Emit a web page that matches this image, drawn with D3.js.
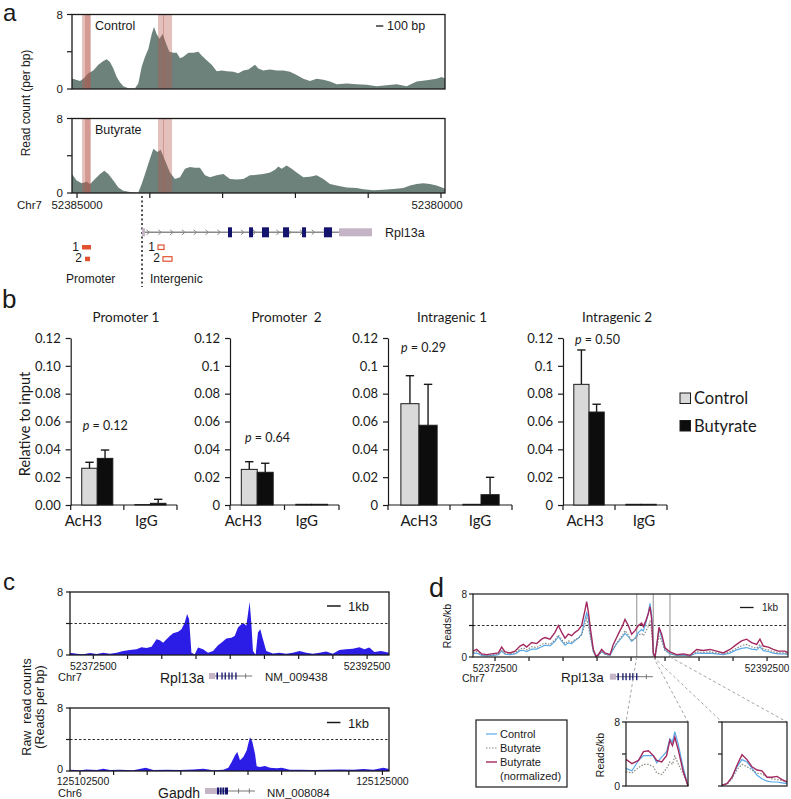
<!DOCTYPE html>
<html><head><meta charset="utf-8">
<script src="https://cdn.jsdelivr.net/npm/d3@7/dist/d3.min.js"></script>
<style>html,body{margin:0;padding:0;background:#fff;}svg{display:block;}</style>
</head><body>
<svg id="fig" width="791" height="799" xmlns="http://www.w3.org/2000/svg"></svg>
<script>
// ================= DATA =================
// Panel a: read counts per bp; positions = distance (bp) downstream of chr7:52385000
const aOrigin = 52385000;
const aTickOffsets = [0, 1000, 2000, 3000, 4000, 5000];
const aControlPos = [-69,41,87,156,224,293,362,408,453,499,545,591,636,705,797,842,888,934,980,1026,1058,1094,1131,1177,1222,1268,1323,1369,1415,1461,1529,1598,1667,1712,1781,1850,1919,1987,2056,2147,2216,2285,2353,2445,2491,2559,2651,2743,2834,2926,3017,3109,3200,3292,3384,3475,3567,3704,3841,3979,4116,4253,4391,4528,4666,4803,4940,5009,5055];
const aControlVal = [1.14,0.85,1.1,1.7,2.0,2.6,3.0,3.2,2.9,2.2,1.3,0.7,0.3,0.07,0.07,0.6,2.4,3.45,4.3,5.9,6.65,5.9,5.4,5.9,4.9,4.0,3.9,3.9,3.3,3.45,3.9,3.9,4.0,3.6,3.1,2.6,1.9,2.0,1.9,1.85,1.7,2.0,2.1,2.6,2.2,2.0,2.1,2.0,2.0,1.85,1.5,1.1,0.85,1.1,1.0,0.8,0.5,0.6,0.5,0.45,0.3,0.4,0.5,0.3,0.8,0.95,1.1,1.3,1.14];
const aButyratePos = [-69,-5,64,133,179,247,316,375,430,499,568,636,728,842,888,934,1003,1049,1104,1149,1209,1277,1346,1415,1483,1552,1621,1689,1758,1827,1919,2010,2102,2193,2285,2376,2468,2559,2651,2720,2766,2811,2880,2949,3017,3109,3200,3292,3384,3475,3567,3704,3841,3933,4070,4208,4345,4483,4574,4666,4757,4849,4940,5032,5055];
const aButyrateVal = [2.05,1.33,1.05,1.2,0.97,1.5,2.05,2.4,2.05,1.33,0.6,0.25,0.1,0.05,0.97,2.05,3.7,4.75,4.4,4.65,3.5,2.2,1.5,1.7,2.6,2.8,2.7,2.7,1.9,1.7,1.9,2.05,1.5,1.45,1.5,1.9,1.95,2.05,2.2,2.5,2.85,2.6,2.95,2.6,2.2,1.7,1.75,1.9,1.5,0.97,0.8,0.6,0.55,0.4,0.3,0.35,0.43,0.55,0.8,0.97,1.05,0.97,0.8,0.55,0.43];
// amplicons (offset bp): promoter 1, promoter 2, intergenic 1, intergenic 2
const aAmpliconNames = ["1", "2", "1", "2"];
const aAmpliconRanges = [[69,192],[110,179],[1113,1195],[1181,1305]];
const aAmpliconGroup = ["Promoter", "Promoter", "Intergenic", "Intergenic"];
// Rpl13a gene model (absolute chr7 coordinates)
const rplTSS = [52384066, 52384107];
const rplExons = [[52382871,52382926],[52382582,52382637],[52382363,52382459],[52382088,52382170],[52381854,52381909],[52381497,52381607]];
const rplUTR = [52380948, 52381401];

// Panel b: ChIP relative to input
const bPanels = ["Promoter 1", "Promoter  2", "Intragenic 1", "Intragenic 2"];
const bCategories = ["AcH3", "IgG"];
const bSeries = ["Control", "Butyrate"];
const bControl = [[0.0264,0.0003],[0.0256,0.0005],[0.0728,0.0005],[0.0867,0.0005]];
const bControlErr = [[0.0043,0],[0.0055,0],[0.0201,0],[0.0247,0]];
const bButyrate = [[0.0335,0.0012],[0.0235,0.0005],[0.0573,0.0074],[0.0668,0.0005]];
const bButyrateErr = [[0.006,0.0029],[0.0065,0],[0.0294,0.0125],[0.0056,0]];
const bPValues = ["0.12", "0.64", "0.29", "0.50"];
const bTicks = [0, 0.02, 0.04, 0.06, 0.08, 0.1, 0.12];

// Panel c: raw read counts (reads per bp); positions = bp from region start
const cRplStart = 52372500;
const cRplPos = [-1705,-1217,-731,-246,241,727,1213,1699,2185,2670,3157,3521,3886,4250,4615,4857,5101,5344,5586,5830,6194,6437,6680,6850,6996,7166,7409,7652,8017,8381,8746,9110,9353,9718,10082,10325,10568,10811,11006,11176,11297,11418,11540,11662,11856,12026,12196,12391,12634,13120,13605,14092,14578,15064,15550,16036,16521,17008,17494,17979,18466,18952,19437,19802,20167,20531,21017,21600];
const cRplVal = [0.3,0.17,0.09,0.25,0.13,0.3,0.17,0.3,0.5,0.64,0.72,1.0,0.9,1.06,2.0,1.87,1.57,2.0,2.4,2.77,2.94,3.28,4.13,5.2,4.55,0.3,0.09,0.94,0.72,0.3,0.5,1.23,1.57,2.1,2.2,2.4,3.5,3.9,4.0,3.7,5.2,6.77,4.13,0.5,0.04,2.85,3.28,2.0,0.5,0.2,0.3,0.17,0.3,0.5,0.3,0.17,0.3,0.43,0.17,0.64,0.72,0.8,1.0,0.72,0.94,0.38,0.5,0.3];
const cGapdhStart = 125102500;
const cGapdhPos = [-744,0,496,1240,1736,2232,2976,3968,4886,5456,6448,7440,8432,9176,9920,10664,11036,11284,11532,11706,11904,12152,12400,12524,12648,12822,13020,13144,13392,13764,14136,14632,15004,15624,16368,17360,18352,19344,20336,21080,21824,22568,22990];
const cGapdhVal = [0.17,0.08,0.2,0.13,0.3,0.13,0.17,0.08,0.42,0.13,0.17,0.13,0.2,0.3,0.08,0.17,0.42,1.14,1.99,2.4,1.36,1.78,2.6,3.5,4.3,3.7,2.2,0.6,0.5,0.64,0.42,0.34,0.42,0.17,0.17,0.13,0.17,0.2,0.17,0.25,0.17,0.42,0.25];
const gapdhUTR = [125111800, 125112693];
const gapdhExons = [[125112693,125112860],[125112910,125113040],[125113090,125113230],[125113280,125113511]];
const gapdhEnd = 125115520;

// Panel d: reads per kb, same Rpl13a region (bp from 52372500)
const dPos = [-1620,-1348,-980,-612,-123,245,490,735,1103,1470,1838,2082,2327,2695,3063,3430,3675,4043,4410,4655,4900,5145,5390,5635,5880,6125,6370,6615,6738,6860,7032,7228,7424,7595,7840,8085,8453,8697,8942,9188,9383,9555,9800,10045,10290,10535,10780,10903,11074,11270,11393,11515,11638,11760,11932,12054,12250,12495,12863,13353,13843,14333,14822,15312,15803,16292,16782,17273,17762,18130,18497,18865,19232,19478,19722,20090,20457,20825,21315,21540];
const dControl = [0.45,0.5,0.2,0.15,0.2,0.3,0.75,0.35,0.3,0.4,0.8,0.85,0.7,1.0,1.0,1.3,1.5,1.4,2.0,2.6,2.0,1.5,1.8,1.7,2.1,2.4,2.9,4.8,5.6,4.9,2.6,0.7,0.05,0.2,0.7,0.35,0.2,1.0,1.7,2.2,2.6,3.0,2.6,2.0,2.4,3.1,3.5,3.3,4.2,5.6,6.8,5.3,0.5,0,2.0,3.5,2.5,0.9,0.4,0.2,0.25,0.15,0.5,0.45,0.5,0.4,0.3,0.5,0.9,1.1,1.2,1.0,0.9,1.3,0.8,0.7,0.5,0.4,0.4,0.3];
const dButyrate = [0.55,0.7,0.28,0.2,0.3,0.38,0.9,0.45,0.38,0.52,1.0,1.15,0.9,1.3,1.2,1.6,1.75,1.6,2.2,2.8,2.2,1.7,2.05,1.9,2.2,2.4,2.8,4.2,4.9,4.0,2.35,0.7,0.06,0.2,0.7,0.36,0.2,1.1,1.75,2.35,2.8,3.35,2.8,2.05,2.35,2.8,3.0,2.7,3.2,3.9,4.5,3.4,0.36,0,1.45,2.65,2.05,0.82,0.45,0.2,0.28,0.15,0.67,0.58,0.67,0.52,0.36,0.67,1.1,1.45,1.6,1.3,1.1,1.6,1.0,0.9,0.67,0.52,0.52,0.36];
const dButyrateNorm = [0.74,0.96,0.39,0.3,0.43,0.52,1.26,0.65,0.52,0.74,1.39,1.6,1.26,1.83,1.7,2.26,2.48,2.26,3.13,4.0,3.13,2.39,2.9,2.7,3.13,3.43,4.0,5.96,7.04,5.74,3.35,0.96,0.09,0.3,0.96,0.52,0.3,1.6,2.48,3.35,4.0,4.78,4.0,2.9,3.35,4.0,4.3,3.87,4.52,5.52,6.39,4.87,0.52,0,2.04,3.78,2.9,1.17,0.65,0.3,0.39,0.22,0.96,0.83,0.96,0.74,0.52,0.96,1.6,2.04,2.26,1.83,1.6,2.26,1.39,1.26,0.96,0.74,0.74,0.52];
const dWindows = [10415, 11638, 12863];
const dInset1Pos = [10415,10532,10662,10760,10857,10955,11020,11118,11215,11280,11332,11378,11443,11540,11638];
const dInset1Control = [2.2,1.9,3.2,3.8,3.8,3.8,2.9,3.6,4.3,5.9,5.5,6.8,5.3,2.4,0];
const dInset1Butyrate = [1.77,1.64,2.3,2.7,2.7,2.4,1.64,1.43,2.2,3.0,2.7,3.75,2.8,1.55,0];
const dInset1Norm = [3.33,2.8,3.2,4.3,4.4,3.8,3.2,3.0,3.8,5.7,5.05,6.1,4.6,1.9,0];
const dInset2Pos = [11638,11732,11826,11921,12015,12109,12203,12298,12392,12486,12580,12675,12769,12863];
const dInset2Control = [0.1,0.3,1.05,2.4,3.3,3.0,2.2,1.35,0.9,0.6,0.5,0.5,0.4,0.3];
const dInset2Butyrate = [0.1,0.2,0.9,2.05,2.7,2.4,2.0,1.6,1.5,1.15,0.9,0.8,0.7,0.5];
const dInset2Norm = [0.1,0.3,1.1,2.6,3.9,3.3,2.4,2.0,1.9,1.1,1.1,1.2,0.8,0.5];
const dLegend = ["Control", "Butyrate", "Butyrate", "(normalized)"];

// ================= DRAWING =================
const svg = d3.select("#fig");
const FA = "'Liberation Sans', Arial, Helvetica, sans-serif";
const FB = "Lato, 'Open Sans', sans-serif";
const INK = "#1a1a1a";
function txt(g, x, y, s, o = {}) {
  const e = g.append("text").attr("x", x).attr("y", y).text(s)
    .attr("font-family", o.f || FA).attr("font-size", o.s || 11)
    .attr("fill", o.c || INK).attr("text-anchor", o.a || "start");
  if (o.it) e.attr("font-style", "italic");
  return e;
}
function vtxt(g, x, y, s, o = {}) {
  return g.append("text").attr("transform", `translate(${x},${y}) rotate(-90)`).text(s)
    .attr("font-family", o.f || FA).attr("font-size", o.s || 11)
    .attr("fill", o.c || INK).attr("text-anchor", "middle");
}
function line(g, x1, y1, x2, y2, o = {}) {
  const l = g.append("line").attr("x1", x1).attr("y1", y1).attr("x2", x2).attr("y2", y2)
    .attr("stroke", o.c || INK).attr("stroke-width", o.w || 1.2);
  if (o.dash) l.attr("stroke-dasharray", o.dash);
  return l;
}
function frame(g, x0, y0, x1, y1, w) {
  g.append("rect").attr("x", x0).attr("y", y0).attr("width", x1 - x0).attr("height", y1 - y0)
    .attr("fill", "none").attr("stroke", INK).attr("stroke-width", w || 1.2);
}

// ---------- panel letters ----------
txt(svg, 3, 21, "a", {s: 24});
txt(svg, 2, 308, "b", {s: 26});
txt(svg, 3, 590, "c", {s: 24});
txt(svg, 429, 597, "d", {s: 27});

// ---------- Panel a ----------
const gA = svg.append("g");
const xA = d3.scaleLinear().domain([-69, 5055]).range([72, 445]);
const aTracks = [
  {label: "Control", pos: aControlPos, val: aControlVal, top: 14.5, bottom: 89},
  {label: "Butyrate", pos: aButyratePos, val: aButyrateVal, top: 118.5, bottom: 193}
];
aTracks.forEach(tr => {
  const y = d3.scaleLinear().domain([0, 8]).range([tr.bottom, tr.top]);
  const pts = tr.pos.map((p, j) => [p, tr.val[j]]);
  gA.append("path").datum(pts).attr("fill", "#6e827c")
    .attr("d", d3.area().x(d => xA(d[0])).y0(y(0)).y1(d => y(d[1])));
  aAmpliconRanges.forEach(a => {
    gA.append("rect").attr("x", xA(a[0])).attr("width", xA(a[1]) - xA(a[0]))
      .attr("y", tr.top).attr("height", tr.bottom - tr.top)
      .attr("fill", "#b85a50").attr("opacity", 0.38);
  });
  frame(gA, xA.range()[0], tr.top, xA.range()[1], tr.bottom, 1.3);
  [0, 4, 8].forEach(v => line(gA, 67, y(v), 72, y(v)));
  txt(gA, 63, y(8) + 4, "8", {a: "end", s: 11.5});
  txt(gA, 63, y(0) + 4, "0", {a: "end", s: 11.5});
  txt(gA, 95, tr.top + 15.5, tr.label, {s: 12.5});
});
vtxt(gA, 30, 103, "Read count (per bp)", {s: 12});
// scale bar 100 bp
line(gA, 376, 26, 376 + (xA(100) - xA(0)), 26, {w: 1.3});
txt(gA, 387, 30, "100 bp", {s: 12.5});
// x axis (bottom track)
aTickOffsets.forEach(t => line(gA, xA(t), 193, xA(t), 198));
txt(gA, 17, 209, "Chr7", {s: 11.5});
txt(gA, xA(aTickOffsets[0]), 209, String(aOrigin - aTickOffsets[0]), {s: 11.5, a: "middle"});
txt(gA, xA(aTickOffsets[5]) - 4, 209, String(aOrigin - aTickOffsets[5]), {s: 11.5, a: "middle"});
// TSS dotted line
const aGX = abs => xA(aOrigin - abs);
line(gA, aGX(rplTSS[1]), 196, aGX(rplTSS[1]), 287, {dash: "2,2.5", w: 1.5});
// gene model
const gyA = 232.3;
line(gA, aGX(rplTSS[1]), gyA, aGX(rplUTR[1]), gyA, {c: "#8a8a8a", w: 1.4});
{
  const xs = aGX(rplTSS[1]) + 6, xe = aGX(rplUTR[1]);
  d3.range(xs, xe - 3, 11.8).forEach(cx => {
    gA.append("path").attr("d", `M${cx - 1.5},${gyA - 2.5} L${cx + 1.5},${gyA} L${cx - 1.5},${gyA + 2.5}`)
      .attr("fill", "none").attr("stroke", "#8a8a8a").attr("stroke-width", 1);
  });
}
gA.append("rect").attr("x", aGX(rplTSS[1])).attr("width", aGX(rplTSS[0]) - aGX(rplTSS[1]))
  .attr("y", gyA - 4).attr("height", 8).attr("fill", "#c4b4c6");
rplExons.forEach(e => gA.append("rect").attr("x", aGX(e[1])).attr("width", aGX(e[0]) - aGX(e[1]))
  .attr("y", gyA - 5).attr("height", 10).attr("fill", "#14146e"));
gA.append("rect").attr("x", aGX(rplUTR[1])).attr("width", aGX(rplUTR[0]) - aGX(rplUTR[1]))
  .attr("y", gyA - 4).attr("height", 8).attr("fill", "#c4b4c6");
txt(gA, 385, 236.5, "Rpl13a", {s: 12.5});
// amplicon markers
aAmpliconRanges.forEach((a, i) => {
  const row = i % 2, filled = aAmpliconGroup[i] === "Promoter";
  const yy = row === 0 ? 245 : 256.7;
  const r = gA.append("rect").attr("x", xA(a[0])).attr("width", xA(a[1]) - xA(a[0]))
    .attr("y", yy).attr("height", 4.5);
  if (filled) r.attr("fill", "#e0522f");
  else r.attr("fill", "#fff").attr("stroke", "#e0522f").attr("stroke-width", 1.2);
  txt(gA, xA(a[0]) - 3, yy + 5.5, aAmpliconNames[i], {a: "end", s: 12});
});
txt(gA, 66, 283, "Promoter", {s: 12});
txt(gA, 150, 283, "Intergenic", {s: 12});

// ---------- Panel b ----------
const gB = svg.append("g");
const yB = d3.scaleLinear().domain([0, 0.12]).range([505, 338]);
const bLayout = [{x0: 70.7, x1: 177}, {x0: 230, x1: 339}, {x0: 388, x1: 512}, {x0: 563, x1: 667}];
const bPLabel = [{dx: 12, y: 430}, {dx: 15, y: 442}, {dx: 13, y: 352}, {dx: 12, y: 344}];
const bCatShift = [[-14, -4], [-14, -5], [0, -1], [-4, 3]];
bPanels.forEach((name, i) => {
  const L = bLayout[i];
  const xg = d3.scaleBand().domain(bCategories).range([L.x0, L.x1]);
  const xs = d3.scaleBand().domain(bSeries).range([0, xg.bandwidth()]).paddingInner(0).paddingOuter(0.71);
  const g = gB.append("g");
  const fmt = i === 0 ? d3.format(".2f") : d3.format("~g");
  const ax = g.append("g").attr("transform", `translate(${L.x0},0)`)
    .call(d3.axisLeft(yB).tickValues(bTicks).tickFormat(fmt).tickSize(5).tickSizeOuter(0).tickPadding(5));
  ax.select(".domain").attr("stroke", INK).attr("stroke-width", 1.2);
  ax.selectAll(".tick line").attr("stroke", INK).attr("stroke-width", 1.2);
  ax.selectAll(".tick text").attr("font-family", FB).attr("font-size", 13).attr("fill", INK);
  line(g, L.x0, yB(0), L.x1, yB(0));
  [L.x0, xg(bCategories[1]), L.x1].forEach(x => line(g, x, yB(0), x, yB(0) + 5));
  bCategories.forEach((c, ci) => {
    const vals = [bControl[i][ci], bButyrate[i][ci]];
    const errs = [bControlErr[i][ci], bButyrateErr[i][ci]];
    bSeries.forEach((s, si) => {
      const bx = xg(c) + xs(s), bw = xs.bandwidth();
      if (errs[si] > 0) {
        line(g, bx + bw / 2, yB(vals[si]), bx + bw / 2, yB(vals[si] + errs[si]), {w: 1.4});
        line(g, bx + bw / 2 - 4.2, yB(vals[si] + errs[si]), bx + bw / 2 + 4.2, yB(vals[si] + errs[si]), {w: 1.4});
      }
      g.append("rect").attr("x", bx).attr("width", bw).attr("y", yB(vals[si]))
        .attr("height", yB(0) - yB(vals[si]))
        .attr("fill", si === 0 ? "#d9d9d9" : "#0d0d0d").attr("stroke", INK).attr("stroke-width", 1);
    });
    txt(g, xg(c) + xg.bandwidth() / 2 + bCatShift[i][ci], 526, c, {f: FB, s: 15, a: "middle"});
  });
  txt(g, (L.x0 + L.x1) / 2 + 2, 322, name, {f: FB, s: 13.5, a: "middle"}).attr("xml:space", "preserve").style("white-space", "pre");
  const pt = g.append("text").attr("x", L.x0 + bPLabel[i].dx).attr("y", bPLabel[i].y)
    .attr("font-family", FB).attr("font-size", 12.5).attr("fill", INK);
  pt.append("tspan").attr("font-style", "italic").text("p");
  pt.append("tspan").text(" = " + bPValues[i]);
});
vtxt(gB, 30, 424, "Relative to input", {f: FB, s: 14.5});
bSeries.forEach((s, si) => {
  const yy = 393 + si * 27.5;
  gB.append("rect").attr("x", 680).attr("y", yy).attr("width", 10.5).attr("height", 10.5)
    .attr("fill", si === 0 ? "#d9d9d9" : "#0d0d0d").attr("stroke", INK).attr("stroke-width", 1);
  txt(gB, 694, yy + 11, s, {f: FB, s: 16.5});
});

// ---------- Panel c ----------
const gC = svg.append("g");
const cTracks = [
  {pos: cRplPos, val: cRplVal, start: cRplStart, domain: [-1705, 21600], top: 592, bottom: 655,
   ticks: d3.range(0, 20001, 2500), labY: 669.5, chr: "Chr7", chrY: 681, gene: "Rpl13a", acc: "NM_009438", gy: 676, nameY: 682.5, sbY: 606, nameX: 160},
  {pos: cGapdhPos, val: cGapdhVal, start: cGapdhStart, domain: [-744, 22990], top: 708, bottom: 771,
   ticks: d3.range(0, 22501, 2500), labY: 784.5, chr: "Chr6", chrY: 797, gene: "Gapdh", acc: "NM_008084", gy: 791, nameY: 797.5, sbY: 722.5, nameX: 158}
];
cTracks.forEach((tr, ti) => {
  const x = d3.scaleLinear().domain(tr.domain).range([70, 389]);
  const y = d3.scaleLinear().domain([0, 8]).range([tr.bottom, tr.top]);
  const pts = tr.pos.map((p, j) => [p, tr.val[j]]);
  gC.append("path").datum(pts).attr("fill", "#2b1de6")
    .attr("d", d3.area().x(d => x(d[0])).y0(y(0)).y1(d => y(d[1])));
  line(gC, 70, y(4), 389, y(4), {dash: "2.5,2", w: 0.9});
  frame(gC, 70, tr.top, 389, tr.bottom, 1.3);
  [0, 4, 8].forEach(v => line(gC, 66, y(v), 70, y(v)));
  txt(gC, 63, y(8) + 4, "8", {a: "end", s: 11});
  txt(gC, 63, y(0) + 1.5, "0", {a: "end", s: 11});
  tr.ticks.forEach(t => line(gC, x(t), tr.bottom, x(t), tr.bottom + 4));
  const first = tr.ticks[0], last = tr.ticks[tr.ticks.length - 1];
  txt(gC, x(first) + (ti === 1 ? 3 : 0), tr.labY, String(tr.start + first), {s: 10.5, a: "middle"});
  txt(gC, x(last), tr.labY, String(tr.start + last), {s: 10.5, a: "middle"});
  txt(gC, 58, tr.chrY, tr.chr, {s: 11});
  txt(gC, tr.nameX, tr.nameY, tr.gene, {s: 14});
  txt(gC, ti === 0 ? 265 : 267, tr.chrY, tr.acc, {s: 11.5});
  // scale bar 1 kb
  line(gC, 327, tr.sbY, 327 + (x(1000) - x(0)), tr.sbY, {w: 1.5});
  txt(gC, 348, tr.sbY + 5, "1kb", {s: 13});
  // gene glyph
  const gx = abs => x(abs - tr.start);
  if (ti === 0) {
    line(gC, gx(rplUTR[0]), tr.gy, gx(rplTSS[1]), tr.gy, {c: "#777", w: 1});
    line(gC, gx(rplTSS[0]) - 6, tr.gy - 2.5, gx(rplTSS[0]) - 6, tr.gy + 2.5, {c: "#777", w: 1});
    gC.append("rect").attr("x", gx(rplUTR[0])).attr("width", gx(rplUTR[1]) - gx(rplUTR[0]))
      .attr("y", tr.gy - 3).attr("height", 6).attr("fill", "#c4b4c6");
    rplExons.forEach(e => gC.append("rect").attr("x", gx(e[0])).attr("width", Math.max(1.3, gx(e[1]) - gx(e[0])))
      .attr("y", tr.gy - 3.5).attr("height", 7).attr("fill", "#14146e"));
  } else {
    line(gC, gx(gapdhUTR[0]), tr.gy, gx(gapdhEnd), tr.gy, {c: "#777", w: 1});
    [125114300, 125115100].forEach(p => line(gC, gx(p), tr.gy - 2.5, gx(p), tr.gy + 2.5, {c: "#777", w: 1}));
    gC.append("rect").attr("x", gx(gapdhUTR[0])).attr("width", gx(gapdhUTR[1]) - gx(gapdhUTR[0]))
      .attr("y", tr.gy - 3).attr("height", 6).attr("fill", "#c4b4c6");
    gapdhExons.forEach(e => gC.append("rect").attr("x", gx(e[0])).attr("width", gx(e[1]) - gx(e[0]))
      .attr("y", tr.gy - 3.5).attr("height", 7).attr("fill", "#14146e"));
  }
});
vtxt(gC, 31, 707, "Raw  read counts", {s: 12.5}).attr("xml:space", "preserve").style("white-space", "pre");
vtxt(gC, 44, 707, "(Reads per bp)", {s: 12.5});

// ---------- Panel d ----------
const gD = svg.append("g");
const xD = d3.scaleLinear().domain([-1620, 21540]).range([473, 788]);
const yD = d3.scaleLinear().domain([0, 8]).range([657, 594]);
const dStyles = [
  {vals: dControl, c: "#5aaae8", w: 1.2, dash: null},
  {vals: dButyrate, c: "#8c8a80", w: 1.2, dash: "1.5,1.5"},
  {vals: dButyrateNorm, c: "#a2285f", w: 1.4, dash: null}
];
line(gD, 473, yD(4), 788, yD(4), {dash: "2.5,2", w: 0.9});
dWindows.forEach(w => line(gD, xD(w), 594, xD(w), 657, {c: "#a8a8a8", w: 1.3}));
dStyles.forEach(s => {
  const p = gD.append("path").datum(dPos.map((q, j) => [q, s.vals[j]]))
    .attr("fill", "none").attr("stroke", s.c).attr("stroke-width", s.w)
    .attr("d", d3.line().x(d => xD(d[0])).y(d => yD(d[1])));
  if (s.dash) p.attr("stroke-dasharray", s.dash);
});
frame(gD, 473, 594, 788, 657, 1.2);
[0, 4, 8].forEach(v => line(gD, 469, yD(v), 473, yD(v)));
txt(gD, 467, yD(8) + 3.5, "8", {a: "end", s: 10});
txt(gD, 467, yD(0) + 3.5, "0", {a: "end", s: 10});
vtxt(gD, 451, 626, "Reads/kb", {s: 10.5});
const dTicks = d3.range(0, 20001, 2500);
dTicks.forEach(t => line(gD, xD(t), 657, xD(t), 661));
txt(gD, xD(0), 672, String(cRplStart + 0), {s: 10, a: "middle"});
txt(gD, xD(20000), 672, String(cRplStart + 20000), {s: 10, a: "middle"});
line(gD, 740, 607.5, 740 + (xD(1000) - xD(0)), 607.5, {w: 1.3});
txt(gD, 762, 611, "1kb", {s: 10});
txt(gD, 462, 682, "Chr7", {s: 10.5});
txt(gD, 561, 682, "Rpl13a", {s: 13.5});
{
  const gy = 676.7, gx = abs => xD(abs - cRplStart);
  line(gD, gx(rplUTR[0]), gy, gx(rplTSS[1]), gy, {c: "#777", w: 1});
  line(gD, gx(rplTSS[0]) - 6, gy - 2.5, gx(rplTSS[0]) - 6, gy + 2.5, {c: "#777", w: 1});
  gD.append("rect").attr("x", gx(rplUTR[0])).attr("width", gx(rplUTR[1]) - gx(rplUTR[0]))
    .attr("y", gy - 3).attr("height", 6).attr("fill", "#c4b4c6");
  rplExons.forEach(e => gD.append("rect").attr("x", gx(e[0])).attr("width", Math.max(1.3, gx(e[1]) - gx(e[0])))
    .attr("y", gy - 3.5).attr("height", 7).attr("fill", "#14146e"));
}
// insets
const insets = [
  {x0: 626, x1: 688, pos: dInset1Pos, series: [dInset1Control, dInset1Butyrate, dInset1Norm], labels: true},
  {x0: 722, x1: 787, pos: dInset2Pos, series: [dInset2Control, dInset2Butyrate, dInset2Norm], labels: false}
];
const yI = d3.scaleLinear().domain([0, 8]).range([786, 722]);
// connectors
[[dWindows[0], 0, 0], [dWindows[1], 0, 1], [dWindows[1], 1, 0], [dWindows[2], 1, 1]].forEach(c => {
  const ins = insets[c[1]];
  line(gD, xD(c[0]), 657, c[2] === 0 ? ins.x0 : ins.x1, 722, {c: "#9a9a9a", w: 0.9, dash: "3,2.5"});
});
insets.forEach(ins => {
  const xi = d3.scaleLinear().domain([ins.pos[0], ins.pos[ins.pos.length - 1]]).range([ins.x0, ins.x1]);
  ins.series.forEach((vals, si) => {
    const s = dStyles[si];
    const p = gD.append("path").datum(ins.pos.map((q, j) => [q, vals[j]]))
      .attr("fill", "none").attr("stroke", s.c).attr("stroke-width", s.w)
      .attr("d", d3.line().x(d => xi(d[0])).y(d => yI(d[1])));
    if (s.dash) p.attr("stroke-dasharray", s.dash);
  });
  frame(gD, ins.x0, 722, ins.x1, 786, 1.2);
  [0, 4, 8].forEach(v => line(gD, ins.x0 - 4, yI(v), ins.x0, yI(v)));
  if (ins.labels) {
    txt(gD, ins.x0 - 6, yI(8) + 3.5, "8", {a: "end", s: 10.5});
    txt(gD, ins.x0 - 6, yI(0) + 3.5, "0", {a: "end", s: 10.5});
    vtxt(gD, 604, 755, "Reads/kb", {s: 10.5});
  }
});
// legend
frame(gD, 476, 720, 567, 787, 1.2);
[0, 1, 2].forEach(i => {
  const s = dStyles[i], yy = 734 + i * 14;
  const l = line(gD, 486, yy, 497, yy, {c: s.c, w: s.w});
  if (s.dash) l.attr("stroke-dasharray", s.dash);
});
dLegend.forEach((s, i) => txt(gD, 500, 738 + i * 14, s, {s: 11}));
</script>
</body></html>
